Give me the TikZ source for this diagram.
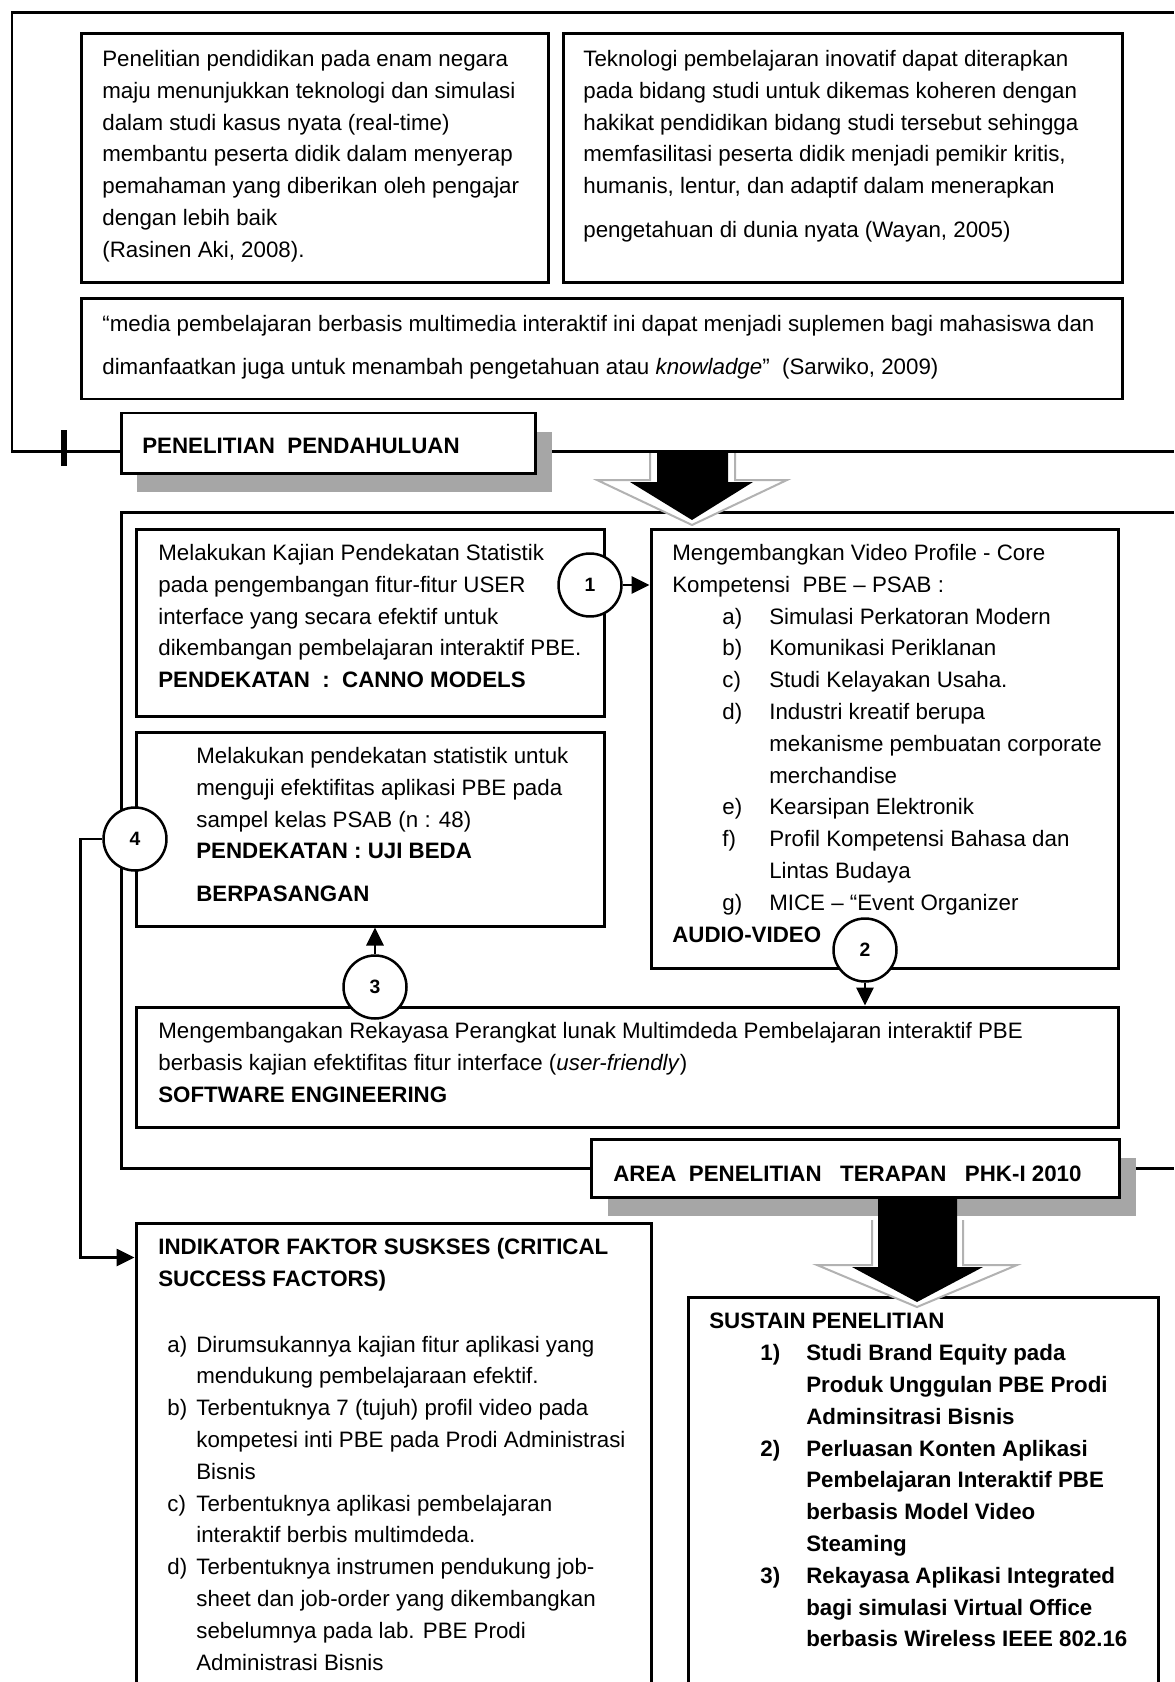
\documentclass[tikz,border=0pt]{standalone}
\usepackage{fontspec}
\setmainfont{Liberation Sans}
\usetikzlibrary{positioning,fit,calc,shadows,arrows.meta}

\newcommand{\hangitem}[3]{\hspace*{#1}\makebox[#2][l]{#3}}

\begin{document}
\begin{tikzpicture}[
  x=0.02cm, y=-0.02cm,
  frame/.style={line width=0.06cm},
  box/.style={draw,line width=0.06cm,fill=white,inner sep=0pt},
  shadowbox/.style={box,drop shadow={shadow xshift=0.33cm,shadow yshift=-0.38cm,fill=black!35,opacity=1}},
  txt/.style={anchor=north west,inner sep=0pt,align=left,font=\fontsize{12.7}{18.1}\selectfont},
  btxt/.style={txt,font=\bfseries\fontsize{12.7}{18.1}\selectfont},
  hdr/.style={anchor=base west,inner sep=0pt,font=\bfseries\fontsize{12.7}{18.1}\selectfont},
  num/.style={circle,draw,line width=0.05cm,fill=white,minimum size=1.26cm,inner sep=0pt,font=\bfseries\fontsize{11}{13}\selectfont},
  conn/.style={line width=0.055cm,-{Triangle[length=0.36cm,width=0.34cm]}},
  blockarrow/.style={fill=black},
  arrowrim/.style={draw=black!30,line width=0.04cm,fill=white}
]
\useasboundingbox (0,0) rectangle (1174,1682);

% outer frames
\draw[frame] (121,451) -| (12,13) -- (1174,13);
\draw[frame] (535,451) -- (1174,451);
\draw[line width=0.11cm] (64,430) -- (64,466);
\draw[frame] (591,1168) -| (121,512) -- (1174,512);
\draw[frame] (1119,1168) -- (1174,1168);

% preliminary research
\node[box,fit={(81,34) (548,283)}] (lit1) {};
\node[txt] (lit1t) at (102,50) {Penelitian pendidikan pada enam negara\\maju menunjukkan teknologi dan simulasi\\dalam studi kasus nyata (real-time)\\membantu peserta didik dalam menyerap\\pemahaman yang diberikan oleh pengajar\\dengan lebih baik\\(Rasinen Aki, 2008).};
\node[box,fit={(563,34) (1122,283)}] (lit2) {};
\node[txt] (lit2t) at (583,50) {Teknologi pembelajaran inovatif dapat diterapkan\\pada bidang studi untuk dikemas koheren dengan\\hakikat pendidikan bidang studi tersebut sehingga\\memfasilitasi peserta didik menjadi pemikir kritis,\\humanis, lentur, dan adaptif dalam menerapkan\\[0.24cm]pengetahuan di dunia nyata (Wayan, 2005)};
\node[box,fit={(81,299) (1122,399)}] (quote) {};
\node[txt] (quotet) at (102,315) {“media pembelajaran berbasis multimedia interaktif ini dapat menjadi suplemen bagi mahasiswa dan\\[0.22cm]dimanfaatkan juga untuk menambah pengetahuan atau \textit{knowladge}”\ \ (Sarwiko, 2009)};
\node[shadowbox,fit={(121,413) (535,473)}] (pen) {};
\node[hdr] (pent) at (142,453) {PENELITIAN\ \ PENDAHULUAN};

% applied research area
\node[box,fit={(136,529) (604,716)}] (kaj) {};
\node[txt] (kajt) at (158,544) {Melakukan Kajian Pendekatan Statistik\\pada pengembangan fitur-fitur USER\\interface yang secara efektif untuk\\dikembangan pembelajaran interaktif PBE.\\\textbf{PENDEKATAN\ \ :\ \ CANNO MODELS}};
\node[box,fit={(651,529) (1118,968)}] (vid) {};
\node[txt] (vidt) at (672,544) {Mengembangkan Video Profile - Core\\Kompetensi\ \ PBE – PSAB :\\
\hangitem{1cm}{0.94cm}{a)}Simulasi Perkatoran Modern\\
\hangitem{1cm}{0.94cm}{b)}Komunikasi Periklanan\\
\hangitem{1cm}{0.94cm}{c)}Studi Kelayakan Usaha.\\
\hangitem{1cm}{0.94cm}{d)}Industri kreatif berupa\\
\hangitem{1cm}{0.94cm}{}mekanisme pembuatan corporate\\
\hangitem{1cm}{0.94cm}{}merchandise\\
\hangitem{1cm}{0.94cm}{e)}Kearsipan Elektronik\\
\hangitem{1cm}{0.94cm}{f)}Profil Kompetensi Bahasa dan\\
\hangitem{1cm}{0.94cm}{}Lintas Budaya\\
\hangitem{1cm}{0.94cm}{g)}MICE – “Event Organizer\\
\textbf{AUDIO-VIDEO}};
\node[box,fit={(136,732) (604,926)}] (uji) {};
\node[txt] (ujit) at (196,747) {Melakukan pendekatan statistik untuk\\menguji efektifitas aplikasi PBE pada\\sampel kelas PSAB (n : 48)\\\textbf{PENDEKATAN : UJI BEDA}\\[0.22cm]\textbf{BERPASANGAN}};
\node[box,fit={(136,1007) (1118,1127)}] (sw) {};
\node[txt] (swt) at (158,1022) {Mengembangakan Rekayasa Perangkat lunak Multimdeda Pembelajaran interaktif PBE\\berbasis kajian efektifitas fitur interface (\textit{user-friendly})\\\textbf{SOFTWARE ENGINEERING}};
\node[shadowbox,fit={(591,1139) (1119,1197)}] (area) {};
\node[hdr] (areat) at (613,1181) {AREA\ \ PENELITIAN\ \ \ TERAPAN\ \ \ PHK-I 2010};

% outcomes
\node[box,fit={(136,1223) (651,1720)}] (ind) {};
\node[txt] (indt) at (158,1238) {\textbf{INDIKATOR FAKTOR SUSKSES (CRITICAL}\\\textbf{SUCCESS FACTORS)}\\[0.68cm]
\hangitem{0.18cm}{0.58cm}{a)}Dirumsukannya kajian fitur aplikasi yang\\
\hangitem{0.18cm}{0.58cm}{}mendukung pembelajaraan efektif.\\
\hangitem{0.18cm}{0.58cm}{b)}Terbentuknya 7 (tujuh) profil video pada\\
\hangitem{0.18cm}{0.58cm}{}kompetesi inti PBE pada Prodi Administrasi\\
\hangitem{0.18cm}{0.58cm}{}Bisnis\\
\hangitem{0.18cm}{0.58cm}{c)}Terbentuknya aplikasi pembelajaran\\
\hangitem{0.18cm}{0.58cm}{}interaktif berbis multimdeda.\\
\hangitem{0.18cm}{0.58cm}{d)}Terbentuknya instrumen pendukung job-\\
\hangitem{0.18cm}{0.58cm}{}sheet dan job-order yang dikembangkan\\
\hangitem{0.18cm}{0.58cm}{}sebelumnya pada lab. PBE Prodi\\
\hangitem{0.18cm}{0.58cm}{}Administrasi Bisnis};
\node[box,fit={(688,1297) (1158,1720)}] (sus) {};
\node[btxt] (sust) at (709,1313) {SUSTAIN PENELITIAN\\
\hangitem{1.02cm}{0.92cm}{1)}Studi Brand Equity pada\\
\hangitem{1.02cm}{0.92cm}{}Produk Unggulan PBE Prodi\\
\hangitem{1.02cm}{0.92cm}{}Adminsitrasi Bisnis\\
\hangitem{1.02cm}{0.92cm}{2)}Perluasan Konten Aplikasi\\
\hangitem{1.02cm}{0.92cm}{}Pembelajaran Interaktif PBE\\
\hangitem{1.02cm}{0.92cm}{}berbasis Model Video\\
\hangitem{1.02cm}{0.92cm}{}Steaming\\
\hangitem{1.02cm}{0.92cm}{3)}Rekayasa Aplikasi Integrated\\
\hangitem{1.02cm}{0.92cm}{}bagi simulasi Virtual Office\\
\hangitem{1.02cm}{0.92cm}{}berbasis Wireless IEEE 802.16};

% block arrows
\filldraw[arrowrim] (650,453) -- (650,480) -- (597,480) -- (692,525) -- (787,480) -- (735,480) -- (735,453);
\fill[blockarrow] (657,451) -- (657,482) -- (630,482) -- (692,520) -- (753,482) -- (728,482) -- (728,451) -- cycle;
\filldraw[arrowrim] (872,1220) -- (872,1265) -- (817,1265) -- (917,1307) -- (1017,1265) -- (963,1265) -- (963,1220);
\fill[blockarrow] (878,1197) -- (878,1267) -- (852,1267) -- (917,1302) -- (983,1267) -- (957,1267) -- (957,1197) -- cycle;

% numbered steps
\node[num] (c1) at (590,585) {1};
\node[num] (c2) at (865,950) {2};
\node[num] (c3) at (375,987) {3};
\node[num] (c4) at (135,839) {4};

\draw[conn] (c1.east) -- (c1.east -| vid.west);
\draw[conn] (c2.south) -- (c2.south |- sw.north);
\draw[conn] (c3.north) -- (c3.north |- uji.south);
\draw[conn] (c4.west) -- ++(-22,0) |- ($(ind.north west)+(0,36)$);
\end{tikzpicture}
\end{document}
